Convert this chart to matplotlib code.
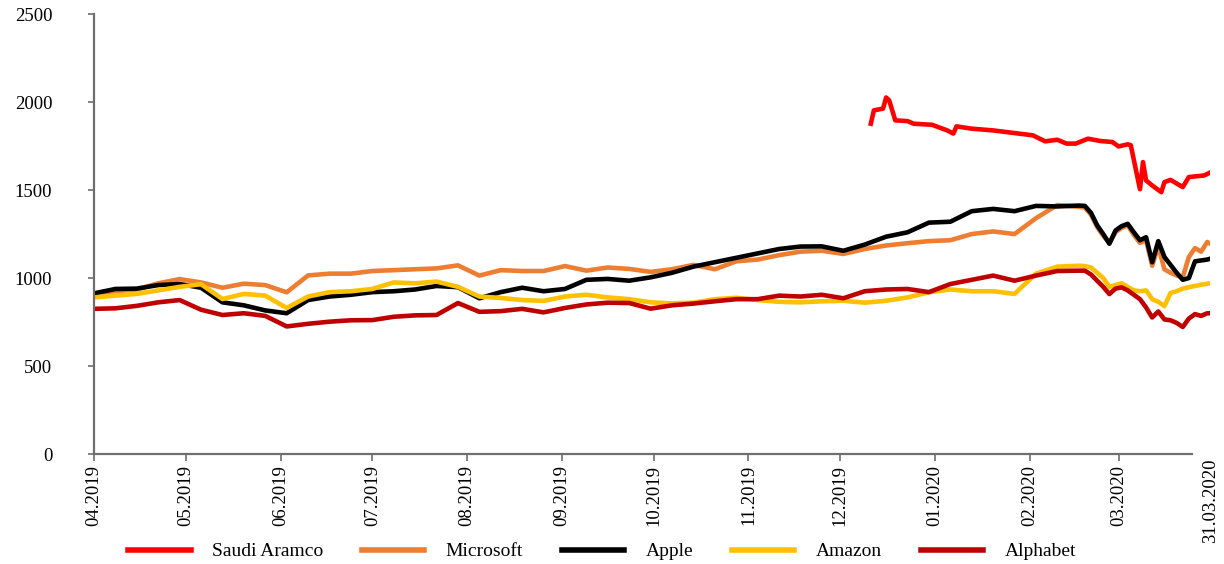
import numpy as np
import pandas as pd
import matplotlib
matplotlib.use("Agg")
import matplotlib.pyplot as plt
import matplotlib.dates as mdates

# weekly closes until mid February, then every second day through the March crash
dates = (list(pd.date_range("2019-04-01", "2020-02-17", freq="7D"))
         + list(pd.date_range("2020-02-19", "2020-03-30", freq="2D"))
         + [pd.Timestamp("2020-03-31")])

apple = [913, 938, 940, 960, 966, 945, 862, 845, 816, 800, 875, 895, 905, 920, 925, 935,
         955, 948, 885, 920, 945, 925, 938, 990, 995, 985, 1004, 1030, 1065, 1090, 1115, 1140,
         1165, 1179, 1180, 1155, 1190, 1235, 1260, 1315, 1320, 1380, 1393, 1380, 1410, 1407, 1412,
         1410, 1370, 1300, 1250, 1195, 1270, 1295, 1308, 1260, 1215, 1232, 1090, 1210, 1120,
         1075, 1030, 990, 1000, 1095, 1100, 1105, 1110]
microsoft = [910, 925, 935, 970, 994, 975, 945, 968, 960, 919, 1015, 1025, 1025, 1040, 1045, 1050,
             1055, 1072, 1014, 1045, 1040, 1040, 1068, 1042, 1060, 1052, 1035, 1050, 1075, 1050, 1095, 1105,
             1130, 1150, 1155, 1137, 1165, 1185, 1198, 1210, 1215, 1250, 1265, 1250, 1340, 1415, 1405,
             1400, 1360, 1290, 1240, 1200, 1260, 1285, 1300, 1245, 1200, 1215, 1070, 1180, 1050,
             1030, 1015, 1005, 1120, 1170, 1150, 1205, 1195]
amazon = [890, 900, 910, 930, 950, 965, 881, 910, 900, 830, 895, 920, 925, 938, 975, 970,
          980, 950, 895, 887, 875, 870, 895, 905, 890, 880, 862, 856, 860, 880, 888, 875,
          865, 862, 868, 871, 860, 871, 890, 919, 935, 925, 925, 910, 1025, 1065, 1070,
          1068, 1060, 1030, 1000, 950, 960, 970, 950, 930, 925, 930, 880, 865, 840,
          915, 925, 940, 948, 955, 962, 968, 970]
alphabet = [825, 828, 842, 862, 875, 820, 790, 800, 785, 725, 740, 752, 760, 761, 780, 788,
            790, 858, 808, 812, 825, 805, 830, 850, 860, 858, 826, 845, 855, 868, 880, 880,
            900, 895, 905, 885, 925, 935, 938, 920, 966, 990, 1014, 985, 1014, 1040, 1042,
            1042, 1020, 985, 950, 909, 940, 947, 930, 905, 880, 833, 776, 810, 765,
            760, 745, 722, 770, 795, 785, 800, 800]

# Saudi Aramco only listed from 11.12.2019
aramco_dates = pd.to_datetime([
    "2019-12-11", "2019-12-12", "2019-12-15", "2019-12-16", "2019-12-17", "2019-12-19",
    "2019-12-23", "2019-12-25", "2019-12-31", "2020-01-05", "2020-01-07", "2020-01-08",
    "2020-01-13", "2020-01-20", "2020-01-27", "2020-02-02", "2020-02-06", "2020-02-10",
    "2020-02-13", "2020-02-16", "2020-02-20", "2020-02-24", "2020-02-28", "2020-03-01",
    "2020-03-04", "2020-03-05", "2020-03-08", "2020-03-09", "2020-03-10", "2020-03-12",
    "2020-03-15", "2020-03-16", "2020-03-18", "2020-03-22", "2020-03-24", "2020-03-29",
    "2020-03-31"])
aramco = [1877, 1953, 1963, 2026, 2010, 1896, 1892, 1877, 1871, 1839, 1821, 1862,
          1849, 1839, 1824, 1811, 1777, 1786, 1764, 1764, 1792, 1779, 1773, 1748,
          1760, 1755, 1505, 1659, 1555, 1526, 1488, 1545, 1558, 1517, 1574, 1583, 1600]

month_ticks = pd.date_range("2019-04-01", "2020-03-01", freq="MS")
end_label = "31.03.2020"

plt.rcParams["font.family"] = ["Liberation Serif", "DejaVu Serif"]
axis_color = "#6e6e6e"
text_size = 13.5
lw = 3.3

fig = plt.figure(figsize=(12.24, 5.64), dpi=100)
ax = fig.add_axes([0.0768, 0.195, 0.912, 0.780])

ax.plot(aramco_dates, aramco, color="#FF0000", linewidth=lw, label="Saudi Aramco")
ax.plot(dates, microsoft, color="#ED7D31", linewidth=lw, label="Microsoft")
ax.plot(dates, apple, color="#000000", linewidth=lw, label="Apple")
ax.plot(dates, amazon, color="#FFC000", linewidth=lw, label="Amazon")
ax.plot(dates, alphabet, color="#C00000", linewidth=lw, label="Alphabet")

ax.set_xlim(pd.Timestamp("2019-04-01"), pd.Timestamp("2020-03-31"))
ax.set_ylim(0, 2500)
ax.set_yticks(np.arange(0, 2501, 500))

ax.set_xticks(month_ticks)
ax.xaxis.set_major_formatter(mdates.DateFormatter("%m.%Y"))
ax.set_xticks([pd.Timestamp("2020-03-31")], minor=True)
ax.set_xticklabels([end_label], minor=True)

for side in ("top", "right"):
    ax.spines[side].set_visible(False)
for side in ("left", "bottom"):
    ax.spines[side].set_color(axis_color)
    ax.spines[side].set_linewidth(1.6)
ax.spines["bottom"].set_bounds(mdates.date2num(pd.Timestamp("2019-04-01")),
                               mdates.date2num(pd.Timestamp("2020-03-25")))

ax.tick_params(axis="y", length=4, width=1.2, color=axis_color, pad=26, labelsize=text_size)
ax.tick_params(axis="x", which="major", length=5, width=1.2, color=axis_color, pad=3,
               labelsize=text_size, labelrotation=90)
ax.tick_params(axis="x", which="minor", length=0, pad=3, labelsize=text_size, labelrotation=90)

leg = fig.legend(loc="center", bbox_to_anchor=(0.492, 0.022), ncol=5, frameon=False,
                 fontsize=14, handlelength=3.2, handletextpad=1.1, columnspacing=2.0)
for line in leg.get_lines():
    line.set_linewidth(4)

fig.savefig("out.png", dpi=100)
